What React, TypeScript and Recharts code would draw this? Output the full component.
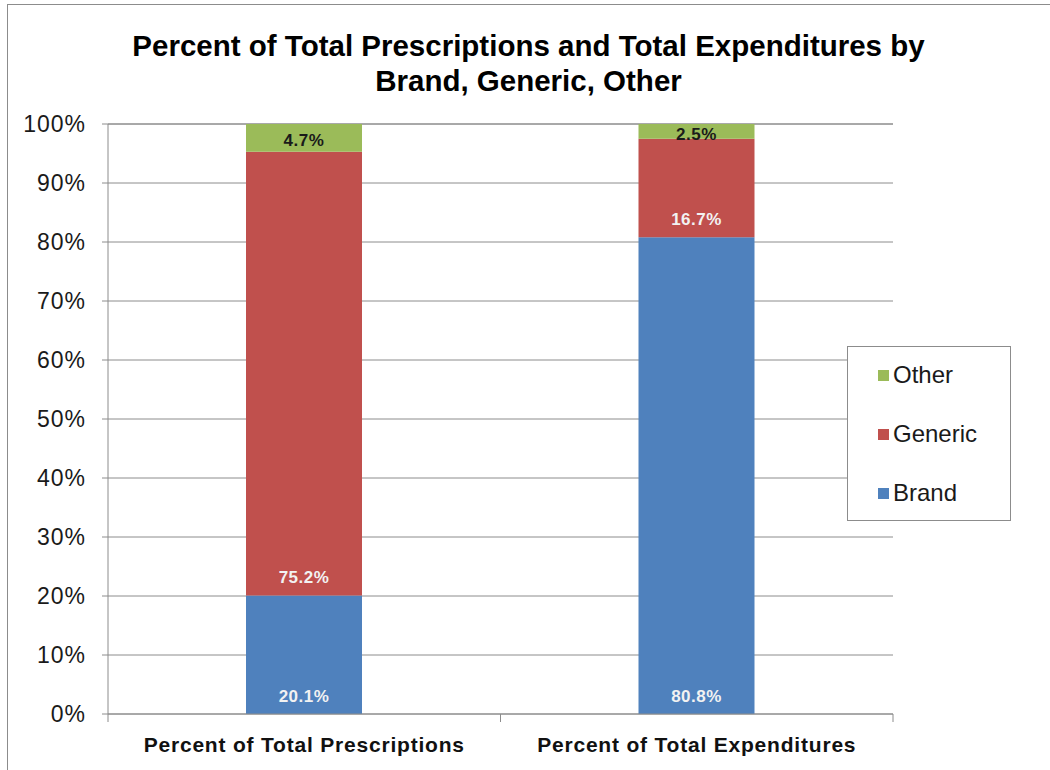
import React from 'react';
import { BarChart, Bar, XAxis, YAxis, CartesianGrid, LabelList } from 'recharts';

const categories = ['Percent of Total Prescriptions', 'Percent of Total Expenditures'];
const brandValues = [20.1, 80.8];
const genericValues = [75.2, 16.7];
const otherValues = [4.7, 2.5];
const yTicks = [0, 10, 20, 30, 40, 50, 60, 70, 80, 90, 100];

const FONT = 'Arial, "Liberation Sans", sans-serif';
const GRID = '#8c8c8c';

const series = [
  { key: 'Brand', color: '#4F81BD', labelColor: '#f2f2f2' },
  { key: 'Generic', color: '#C0504D', labelColor: '#f2f2f2' },
  { key: 'Other', color: '#9BBB59', labelColor: '#1a1a1a' },
];

const data = categories.map((name, i) => ({
  name,
  Brand: brandValues[i],
  Generic: genericValues[i],
  Other: otherValues[i],
}));

// labels sit near the base of each segment, like Excel's "inside base"
const makeLabel = (fill: string) => (props: any) => {
  const x = Number(props.x);
  const y = Number(props.y);
  const w = Number(props.width);
  const h = Number(props.height);
  const cy = Math.max(y + h / 2 + 3, y + h - 18);
  return (
    <text
      x={x + w / 2}
      y={cy}
      textAnchor="middle"
      dominantBaseline="central"
      fill={fill}
      fontSize={17}
      fontWeight="bold"
      letterSpacing={0.5}
      fontFamily={FONT}
    >
      {Number(props.value).toFixed(1)}%
    </text>
  );
};

// category label plus Excel-style tick marks between categories
const CategoryTick = (props: any) => {
  const { x, y, payload, width, visibleTicksCount } = props;
  const half = payload && payload.offset ? payload.offset : width / visibleTicksCount / 2;
  return (
    <g>
      <line x1={x - half} x2={x - half} y1={y} y2={y + 8} stroke={GRID} />
      <line x1={x + half} x2={x + half} y1={y} y2={y + 8} stroke={GRID} />
      <text
        x={x}
        y={y + 30}
        textAnchor="middle"
        dominantBaseline="central"
        fill="#111"
        fontSize={21}
        fontWeight="bold"
        letterSpacing={0.8}
        fontFamily={FONT}
      >
        {payload.value}
      </text>
    </g>
  );
};

const LegendBox = () => (
  <div
    style={{
      position: 'absolute',
      left: 847,
      top: 346,
      width: 162,
      height: 173,
      border: `1px solid ${GRID}`,
      background: '#fff',
    }}
  >
    {[...series].reverse().map((s, i) => (
      <div
        key={s.key}
        style={{
          position: 'absolute',
          left: 30,
          top: 28 + i * 59 - 14,
          height: 28,
          display: 'flex',
          alignItems: 'center',
        }}
      >
        <span style={{ width: 11, height: 11, background: s.color, marginRight: 4 }} />
        <span style={{ fontFamily: FONT, fontSize: 24, color: '#1a1a1a' }}>{s.key}</span>
      </div>
    ))}
  </div>
);

export default function App() {
  return (
    <div
      style={{
        position: 'absolute',
        left: 0,
        top: 0,
        width: 1050,
        height: 770,
        overflow: 'hidden',
        background: '#fff',
      }}
    >
      <div
        style={{
          position: 'absolute',
          left: 7,
          top: 4,
          width: 1100,
          height: 800,
          border: `1px solid ${GRID}`,
        }}
      />
      <div
        style={{
          position: 'absolute',
          left: 7,
          top: 28,
          width: 1043,
          textAlign: 'center',
          fontFamily: FONT,
          fontWeight: 'bold',
          fontSize: 29.5,
          lineHeight: '35px',
          color: '#000',
        }}
      >
        Percent of Total Prescriptions and Total Expenditures by
        <br />
        Brand, Generic, Other
      </div>
      <div style={{ position: 'absolute', left: 0, top: 0 }}>
        <BarChart
          width={1050}
          height={770}
          data={data}
          margin={{ top: 124, right: 157, bottom: 16, left: 28 }}
          barSize={116}
        >
          <CartesianGrid vertical={false} stroke={GRID} strokeDasharray="" />
          <XAxis
            dataKey="name"
            height={40}
            axisLine={{ stroke: GRID }}
            tickLine={false}
            tickSize={0}
            tickMargin={0}
            tick={<CategoryTick />}
            interval={0}
          />
          <YAxis
            width={80}
            domain={[0, 100]}
            ticks={yTicks}
            tickFormatter={(v: number) => `${v}%`}
            axisLine={{ stroke: GRID }}
            tickLine={{ stroke: GRID }}
            tickSize={6}
            tickMargin={16}
            tick={{ fill: '#1a1a1a', fontSize: 23, fontFamily: FONT, letterSpacing: 1 }}
            interval={0}
          />
          {series.map((s) => (
            <Bar key={s.key} dataKey={s.key} stackId="a" fill={s.color} isAnimationActive={false}>
              <LabelList dataKey={s.key} content={makeLabel(s.labelColor)} />
            </Bar>
          ))}
        </BarChart>
      </div>
      <LegendBox />
    </div>
  );
}
